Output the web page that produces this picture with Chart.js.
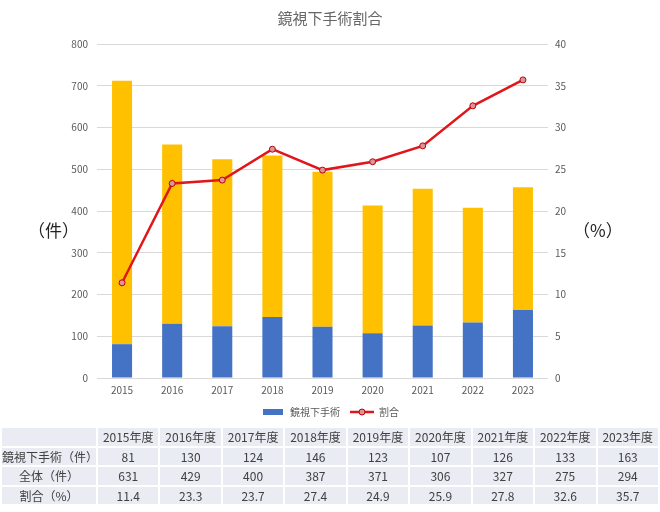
<!DOCTYPE html>
<html lang="ja">
<head>
<meta charset="utf-8">
<script src="https://cdn.jsdelivr.net/npm/chart.js@4"></script>
<style>
  body { margin: 0; background: #fff; font-family: "Noto Sans CJK JP", sans-serif; }
  #wrap { position: relative; width: 660px; height: 512px; }
  #chartBox { position: absolute; left: 0; top: 0; width: 660px; height: 427px; }
  .unit { position: absolute; font-size: 17px; color: #222; }
  #unitLeft { left: 28px; top: 217px; }
  #unitRight { left: 573px; top: 217px; }
  table { position: absolute; left: 0; top: 426px; width: 660px; border-collapse: collapse; table-layout: fixed; }
  td { background: #e9ecf3; border: 2px solid #fff; height: 17.5px; padding: 0; text-align: center; font-size: 12px; color: #404040; line-height: 17px; }
  td.head { width: 94px; }
</style>
</head>
<body>
<div id="wrap">
  <div id="chartBox"><canvas id="chart"></canvas></div>
  <div class="unit" id="unitLeft">（件）</div>
  <div class="unit" id="unitRight">（%）</div>
  <table id="dataTable"></table>
</div>
<script>
const years = ['2015', '2016', '2017', '2018', '2019', '2020', '2021', '2022', '2023']
const scopeCount = [81, 130, 124, 146, 123, 107, 126, 133, 163]
const totalCount = [631, 429, 400, 387, 371, 306, 327, 275, 294]
const ratio = [11.4, 23.3, 23.7, 27.4, 24.9, 25.9, 27.8, 32.6, 35.7]

const chartE = document.getElementById('chart')
const tableE = document.getElementById('dataTable')
const textColor = '#595959'

function legendIcon(kind) {
   const c = document.createElement('canvas')
   c.width = 24
   c.height = 8
   const ctx = c.getContext('2d')
   if (kind === 'bar') {
      ctx.fillStyle = '#4472c4'
      ctx.fillRect(2, 1, 20, 6)
   } else {
      ctx.strokeStyle = '#e0161b'
      ctx.lineWidth = 2.5
      ctx.beginPath()
      ctx.moveTo(0, 4)
      ctx.lineTo(24, 4)
      ctx.stroke()
      ctx.fillStyle = '#d9959b'
      ctx.strokeStyle = '#c00000'
      ctx.lineWidth = 1
      ctx.beginPath()
      ctx.arc(12, 4, 3, 0, Math.PI * 2)
      ctx.fill()
      ctx.stroke()
   }
   return c
}

function renderTable() {
   let html = '<tr><td class="head"></td>' + years.map(y => '<td>' + y + '年度</td>').join('') + '</tr>'
   html += '<tr><td class="head">鏡視下手術（件）</td>' + scopeCount.map(v => '<td>' + v + '</td>').join('') + '</tr>'
   html += '<tr><td class="head">全体（件）</td>' + totalCount.map(v => '<td>' + v + '</td>').join('') + '</tr>'
   html += '<tr><td class="head">割合（%）</td>' + ratio.map(v => '<td>' + v.toFixed(1) + '</td>').join('') + '</tr>'
   tableE.innerHTML = html
}
renderTable()

new Chart(chartE, {
   type: 'bar',
   data: {
      labels: years,
      datasets: [
         {
            label: '鏡視下手術',
            data: scopeCount,
            backgroundColor: '#4472c4',
            barPercentage: 0.8,
            categoryPercentage: 0.5,
            yAxisID: 'y',
            order: 1
         },
         {
            label: '全体',
            data: totalCount,
            backgroundColor: '#ffc000',
            barPercentage: 0.8,
            categoryPercentage: 0.5,
            yAxisID: 'y',
            order: 1
         },
         {
            type: 'line',
            label: '割合',
            data: ratio,
            borderColor: '#e0161b',
            borderWidth: 2.5,
            pointRadius: 3,
            pointBackgroundColor: '#d9959b',
            pointBorderColor: '#c00000',
            pointBorderWidth: 1,
            tension: 0,
            yAxisID: 'y1',
            order: 0
         }
      ]
   },
   options: {
      responsive: true,
      maintainAspectRatio: false,
      animation: false,
      layout: { padding: { left: 0, right: 0, top: 0, bottom: 0 } },
      plugins: {
         title: {
            display: true,
            text: '鏡視下手術割合',
            color: '#666666',
            font: { size: 15, family: 'Noto Sans CJK JP', weight: 'normal' },
            padding: { top: 9, bottom: 17 }
         },
         legend: {
            position: 'bottom',
            labels: {
               usePointStyle: true,
               pointStyleWidth: 24,
               color: textColor,
               font: { size: 10, family: 'Noto Sans CJK JP' },
               padding: 10,
               filter: item => item.text !== '全体',
               generateLabels: chart => chart.data.datasets.map((ds, i) => ({
                  text: ds.label,
                  datasetIndex: i,
                  fontColor: textColor,
                  pointStyle: legendIcon(ds.type === 'line' ? 'line' : 'bar'),
                  lineWidth: 0
               }))
            }
         },
         tooltip: { enabled: false }
      },
      scales: {
         x: {
            stacked: true,
            grid: { display: false, drawTicks: false },
            border: { display: false },
            ticks: { color: textColor, font: { size: 10, family: 'Noto Sans CJK JP' }, padding: 6 },
            afterFit: scale => { scale.height -= 5 }
         },
         y: {
            stacked: true,
            position: 'left',
            min: 0,
            max: 800,
            ticks: { stepSize: 100, color: textColor, font: { size: 10, family: 'Noto Sans CJK JP' }, padding: 9 },
            grid: { color: '#d9d9d9', drawTicks: false },
            border: { display: false },
            afterFit: scale => { scale.width = 97 }
         },
         y1: {
            position: 'right',
            min: 0,
            max: 40,
            ticks: { stepSize: 5, color: textColor, font: { size: 10, family: 'Noto Sans CJK JP' }, padding: 7 },
            grid: { display: false, drawTicks: false },
            border: { display: false },
            afterFit: scale => { scale.width = 112 }
         }
      }
   }
})
</script>
</body>
</html>
